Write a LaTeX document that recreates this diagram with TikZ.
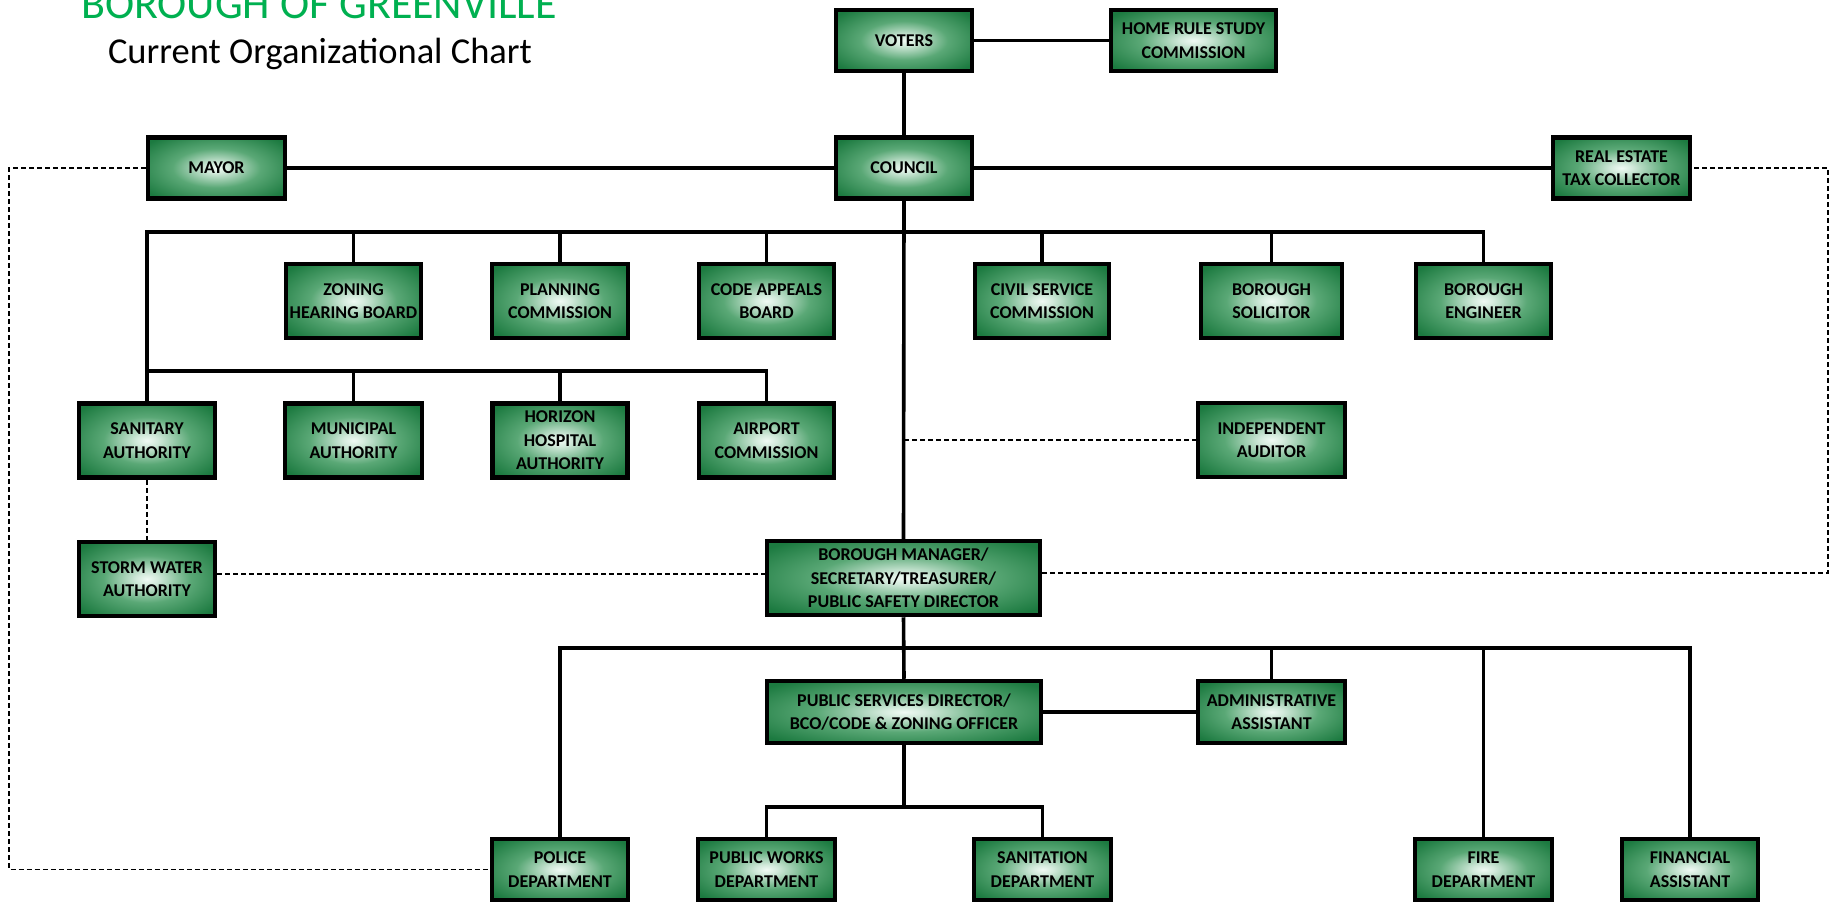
\documentclass[tikz,border=0pt]{standalone}
\usepackage{fontspec}
\setmainfont{Carlito}
\definecolor{titlegreen}{RGB}{0,176,80}
\definecolor{boxin}{RGB}{240,250,244}
\definecolor{boxmid}{RGB}{90,168,118}
\definecolor{boxout}{RGB}{28,122,64}
\pgfdeclareradialshading{boxshade}{\pgfpoint{0bp}{0bp}}{color(0bp)=(boxin); color(4bp)=(boxin!80!boxmid); color(16bp)=(boxmid); color(32bp)=(boxout); color(60bp)=(boxout)}
\tikzset{
  box/.style={draw=black, line width=4.5pt, shading=boxshade, align=center,
    font=\fontsize{18}{23.5}\selectfont\bfseries, inner sep=0pt,
    minimum width=136pt, minimum height=61pt},
  tall/.style={minimum height=74pt},
  conn/.style={line width=3.6pt},
  dotconn/.style={line width=1.6pt, dash pattern=on 5pt off 3pt},
}
\begin{document}
\begin{tikzpicture}[x=1pt,y=-1pt]
\useasboundingbox (0,0) rectangle (1836,902);
% titles
\node[anchor=base, text=titlegreen, font=\fontsize{44}{48}\selectfont] (title) at (319,18) {BOROUGH OF GREENVILLE};
\node[anchor=base, font=\fontsize{36.5}{40}\selectfont] (subtitle) at (320,63) {Current Organizational Chart};
% boxes
\node[box] (voters) at (904,40.5) {VOTERS};
\node[box, minimum width=165pt] (home) at (1193.5,40.5) {HOME RULE STUDY\\COMMISSION};
\node[box, minimum width=137pt] (mayor) at (216.5,168) {MAYOR};
\node[box] (council) at (904,168) {COUNCIL};
\node[box, minimum width=137pt] (realestate) at (1621.5,168) {REAL ESTATE\\TAX COLLECTOR};
\node[box, tall, minimum width=135pt] (zoning) at (353.5,301) {ZONING\\HEARING BOARD};
\node[box, tall] (planning) at (560,301) {PLANNING\\COMMISSION};
\node[box, tall, minimum width=135pt] (codeappeals) at (766.5,301) {CODE APPEALS\\BOARD};
\node[box, tall, minimum width=134pt] (civil) at (1042,301) {CIVIL SERVICE\\COMMISSION};
\node[box, tall, minimum width=141pt] (solicitor) at (1271.5,301) {BOROUGH\\SOLICITOR};
\node[box, tall, minimum width=135pt] (engineer) at (1483.5,301) {BOROUGH\\ENGINEER};
\node[box, tall] (sanitary) at (147,440.5) {SANITARY\\AUTHORITY};
\node[box, tall, minimum width=137pt] (municipal) at (353.5,440.5) {MUNICIPAL\\AUTHORITY};
\node[box, tall, minimum width=135pt] (horizon) at (560,440.5) {HORIZON\\HOSPITAL\\AUTHORITY};
\node[box, tall, minimum width=135pt] (airport) at (766.5,440.5) {AIRPORT\\COMMISSION};
\node[box, tall, minimum width=147pt] (auditor) at (1271.5,440) {INDEPENDENT\\AUDITOR};
\node[box, tall] (storm) at (147,579) {STORM WATER\\AUTHORITY};
\node[box, tall, minimum width=273pt] (manager) at (903.5,578) {BOROUGH MANAGER/\\SECRETARY/TREASURER/\\PUBLIC SAFETY DIRECTOR};
\node[box, minimum width=274pt, minimum height=62pt] (pubserv) at (904,712) {PUBLIC SERVICES DIRECTOR/\\BCO/CODE \& ZONING OFFICER};
\node[box, minimum width=147pt, minimum height=62pt] (admin) at (1271.5,712) {ADMINISTRATIVE\\ASSISTANT};
\node[box] (police) at (560,869.5) {POLICE\\DEPARTMENT};
\node[box, minimum width=137pt] (pubworks) at (766.5,869.5) {PUBLIC WORKS\\DEPARTMENT};
\node[box, minimum width=137pt] (sanitation) at (1042.5,869.5) {SANITATION\\DEPARTMENT};
\node[box, minimum width=137pt] (fire) at (1483.5,869.5) {FIRE\\DEPARTMENT};
\node[box] (financial) at (1690,869.5) {FINANCIAL\\ASSISTANT};
% helper coordinates
\coordinate (b1) at (0,232);
\coordinate (b2) at (0,371);
\coordinate (b3) at (0,648);
\coordinate (b4) at (0,807);
\coordinate (ll) at (9,0);
\coordinate (rr) at (1828,0);
% solid connectors
\draw[conn] (voters.east) -- (home.west);
\draw[conn] (voters.south) -- (council.north);
\draw[conn] (mayor.east) -- (council.west);
\draw[conn] (council.east) -- (realestate.west);
\draw[conn] (council.south) -- (manager.north);
\draw[conn] (sanitary.north) |- (engineer.north |- b1) -- (engineer.north);
\foreach \n in {zoning,planning,codeappeals,civil,solicitor}
  \draw[conn] (\n.north) -- (\n.north |- b1);
\draw[conn] (sanitary.north |- b2) -- (airport.north |- b2) -- (airport.north);
\foreach \n in {municipal,horizon}
  \draw[conn] (\n.north) -- (\n.north |- b2);
\draw[conn] (manager.south) -- (pubserv.north);
\draw[conn] (police.north) |- (financial.north |- b3) -- (financial.north);
\foreach \n in {admin,fire}
  \draw[conn] (\n.north) -- (\n.north |- b3);
\draw[conn] (pubserv.east) -- (admin.west);
\draw[conn] (pubserv.south) -- (pubserv.south |- b4);
\draw[conn] (pubworks.north) |- (sanitation.north |- b4) -- (sanitation.north);
% dashed connectors
\draw[dotconn] (auditor.west -| council.south) -- (auditor.west);
\draw[dotconn] (sanitary.south) -- (storm.north);
\draw[dotconn] ([yshift=5pt]storm.east) -- ([yshift=5pt]storm.east -| manager.west);
\draw[dotconn] ([yshift=5pt]manager.east) -| (rr |- realestate.east) -- (realestate.east);
\draw[dotconn] (mayor.west) -- (ll |- mayor.west) |- (police.west);
\end{tikzpicture}
\end{document}
